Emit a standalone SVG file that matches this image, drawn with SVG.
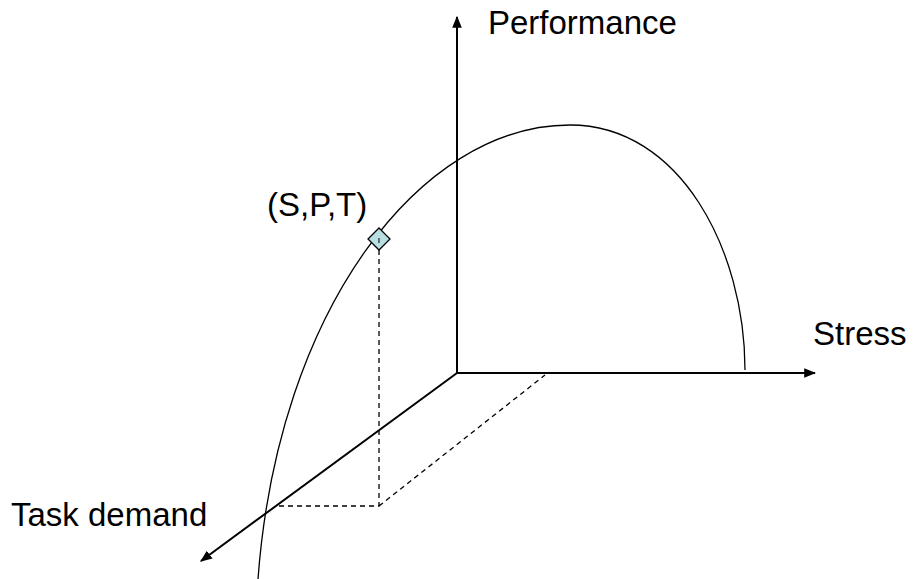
<svg xmlns="http://www.w3.org/2000/svg" width="915" height="579" viewBox="0 0 915 579">
<style>
.lbl{font-family:"Liberation Sans",Arial,sans-serif;font-size:33px;fill:#000}
.ax{stroke:#000;stroke-width:2;fill:none}
.dash{stroke:#000;stroke-width:1.3;stroke-dasharray:5,4;fill:none}
</style>
<defs>
<marker id="arr" viewBox="0 0 10 10" refX="9" refY="5" markerWidth="6" markerHeight="6" markerUnits="strokeWidth" orient="auto">
<path d="M0,1 L10,5 L0,9 z" fill="#000"/>
</marker>
</defs>
<rect width="915" height="579" fill="#fff"/>
<g id="connectors">
<line class="ax" x1="457" y1="373" x2="457" y2="17" marker-end="url(#arr)"/>
<line class="ax" x1="457" y1="373" x2="815" y2="373" marker-end="url(#arr)"/>
<line class="ax" x1="457" y1="373" x2="201" y2="561" marker-end="url(#arr)"/>
<path class="dash" d="M379,250 L379,506 L275,506 M379,506 L545,375"/>
<path d="M258,579 C278,310 420,125 570,125 C680,125 745,250 745,370" fill="none" stroke="#000" stroke-width="1.3"/>
</g>
<g id="point">
<path d="M379,228 L390,239 L379,250 L368,239 z" fill="#b8e0e2" stroke="#000" stroke-width="1.3"/>
<line x1="379" y1="238" x2="379" y2="243" stroke="#000" stroke-width="1"/>
</g>
<g id="labels">
<text class="lbl" x="488" y="34">Performance</text>
<text class="lbl" x="813" y="345">Stress</text>
<text class="lbl" x="267" y="216">(S,P,T)</text>
<text class="lbl" x="11" y="526">Task demand</text>
</g>
</svg>
